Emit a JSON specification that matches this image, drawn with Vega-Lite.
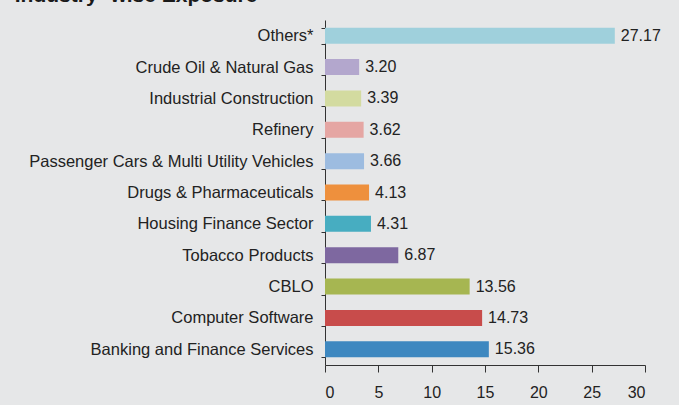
{
  "$schema": "https://vega.github.io/schema/vega-lite/v6.json",
  "autosize": "none",
  "width": 320,
  "height": 345,
  "padding": {"left": 325, "top": 20, "right": 34, "bottom": 40},
  "background": "#e6e7e8",
  "title": {
    "text": "Industry -wise Exposure",
    "anchor": "start",
    "frame": "bounds",
    "fontSize": 21,
    "font": "Liberation Sans",
    "fontWeight": "bold",
    "color": "#1a1a1a",
    "offset": 6,
    "dx": -14
  },
  "data": {
    "values": [
      {"sector": "Others*", "value": 27.17, "label": "27.17", "order": 1, "color": "#9fd0dc"},
      {"sector": "Crude Oil & Natural Gas", "value": 3.20, "label": "3.20", "order": 2, "color": "#b3a7cd"},
      {"sector": "Industrial Construction", "value": 3.39, "label": "3.39", "order": 3, "color": "#d3dba0"},
      {"sector": "Refinery", "value": 3.62, "label": "3.62", "order": 4, "color": "#e5a6a3"},
      {"sector": "Passenger Cars & Multi Utility Vehicles", "value": 3.66, "label": "3.66", "order": 5, "color": "#9dbce0"},
      {"sector": "Drugs & Pharmaceuticals", "value": 4.13, "label": "4.13", "order": 6, "color": "#ee903d"},
      {"sector": "Housing Finance Sector", "value": 4.31, "label": "4.31", "order": 7, "color": "#47adc1"},
      {"sector": "Tobacco Products", "value": 6.87, "label": "6.87", "order": 8, "color": "#7e68a0"},
      {"sector": "CBLO", "value": 13.56, "label": "13.56", "order": 9, "color": "#a6b651"},
      {"sector": "Computer Software", "value": 14.73, "label": "14.73", "order": 10, "color": "#c84c4b"},
      {"sector": "Banking and Finance Services", "value": 15.36, "label": "15.36", "order": 11, "color": "#3e88c0"}
    ]
  },
  "encoding": {
    "y": {
      "field": "sector",
      "type": "nominal",
      "sort": {"field": "order"},
      "scale": {"paddingInner": 0.49, "paddingOuter": 0.245},
      "axis": {
        "title": null,
        "tickBand": "extent",
        "tickSize": 4,
        "tickColor": "#333333",
        "domainColor": "#333333",
        "labelFont": "Liberation Sans",
        "labelFontSize": 16.5,
        "labelColor": "#222222",
        "labelPadding": 8,
        "labelLimit": 400
      }
    },
    "x": {
      "field": "value",
      "type": "quantitative",
      "scale": {"domain": [0, 30], "nice": false},
      "axis": {
        "title": null,
        "values": [0, 5, 10, 15, 20, 25, 30],
        "grid": false,
        "tickSize": 7,
        "tickColor": "#333333",
        "domainColor": "#333333",
        "labelFont": "Liberation Sans",
        "labelFontSize": 16,
        "labelColor": "#222222",
        "labelPadding": 12
      }
    }
  },
  "layer": [
    {
      "mark": {"type": "bar"},
      "encoding": {"color": {"field": "color", "type": "nominal", "scale": null}}
    },
    {
      "mark": {"type": "text", "align": "left", "dx": 6, "font": "Liberation Sans", "fontSize": 16, "color": "#222222"},
      "encoding": {"text": {"field": "label"}}
    }
  ],
  "config": {"view": {"stroke": null}}
}
